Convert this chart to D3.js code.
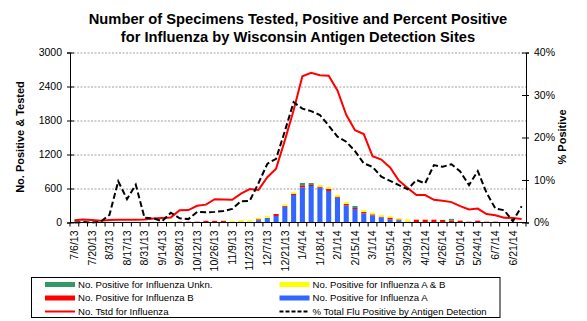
<!DOCTYPE html>
<html>
<head>
<meta charset="utf-8">
<script src="https://cdn.jsdelivr.net/npm/d3@7"></script>
<style>
html,body{margin:0;padding:0;background:#fff;}
svg{display:block;font-family:"Liberation Sans",Arial,sans-serif;}
</style>
</head>
<body>
<svg id="chart" width="587" height="321"></svg>
<script>
const weeks = ["7/6/13","7/13/13","7/20/13","7/27/13","8/3/13","8/10/13","8/17/13","8/24/13","8/31/13","9/7/13","9/14/13","9/21/13","9/28/13","10/5/13","10/12/13","10/19/13","10/26/13","11/2/13","11/9/13","11/16/13","11/23/13","11/30/13","12/7/13","12/14/13","12/21/13","12/28/13","1/4/14","1/11/14","1/18/14","1/25/14","2/1/14","2/8/14","2/15/14","2/22/14","3/1/14","3/8/14","3/15/14","3/22/14","3/29/14","4/5/14","4/12/14","4/19/14","4/26/14","5/3/14","5/10/14","5/17/14","5/24/14","5/31/14","6/7/14","6/14/14","6/21/14","6/28/14"];
const xTickLabels = ["7/6/13","7/20/13","8/3/13","8/17/13","8/31/13","9/14/13","9/28/13","10/12/13","10/26/13","11/9/13","11/23/13","12/7/13","12/21/13","1/4/14","1/18/14","2/1/14","2/15/14","3/1/14","3/15/14","3/29/14","4/12/14","4/26/14","5/10/14","5/24/14","6/7/14","6/21/14"];
const posA   = [0,0,0,0,10,0,0,0,0,0,0,0,0,0,0,0,0,0,0,0,12,40,82,115,278,485,621,644,615,556,438,303,238,162,126,91,56,40,15,0,0,0,0,0,0,0,0,0,0,0,0,0];
const posB   = [0,0,0,0,0,10,10,10,10,10,0,0,15,15,15,30,30,30,0,15,0,18,0,35,15,23,35,18,18,35,18,23,18,23,18,12,29,15,0,50,50,50,45,35,32,15,32,15,15,10,10,10];
const posAB  = [0,0,0,0,0,0,0,0,0,0,8,18,0,0,0,0,0,0,30,30,30,24,35,0,29,29,0,0,29,35,29,35,0,35,29,29,29,25,40,0,0,0,0,0,0,0,0,0,0,0,0,0];
const posUnk = [0,0,0,0,0,0,0,0,0,0,0,0,0,0,0,0,0,0,0,0,0,0,0,0,0,0,41,35,0,0,0,0,35,0,0,0,0,0,0,0,0,0,0,29,0,0,0,0,0,0,0,0];
const tested = [40,55,45,30,45,50,50,50,55,72,80,90,215,220,295,315,410,405,400,510,590,575,800,950,1450,1980,2580,2640,2600,2590,2330,1900,1630,1560,1170,1110,970,740,610,485,485,400,385,360,290,230,245,150,127,85,80,60];
const pctPos = [0,0.1,0,0.2,1.8,9.7,5.5,8.9,1.1,1.0,0.3,2.3,1.0,0.8,2.5,2.4,2.5,2.7,3.2,5.0,5.1,9.3,13.8,15.0,21.5,28.3,26.8,26.2,25.3,22.8,20.2,19.0,16.8,13.9,13.1,10.8,9.8,8.8,7.8,10.0,9.2,13.5,13.1,13.7,12.0,8.8,12.1,7.0,3.3,2.9,0.3,3.8];
const leftTicks = [0,600,1200,1800,2400,3000];
const rightTicks = [0,10,20,30,40];
const seriesKeys = ["A","B","AB","Unk"];
const seriesColors = {A:"#3366ff",B:"#ff0000",AB:"#ffff00",Unk:"#339966"};
const titleLines = ["Number of Specimens Tested, Positive and Percent Positive","for Influenza by Wisconsin Antigen Detection Sites"];

const svg = d3.select("#chart");
const L = 70, R = 526, T = 52.5, B = 222.5;

const x = d3.scaleBand().domain(weeks).range([L, R]).paddingInner(0.42).paddingOuter(0.21);
const y = d3.scaleLinear().domain([0, 3000]).range([B, T]);
const y2 = d3.scaleLinear().domain([0, 40]).range([B, T]);
const cx = d => x(d) + x.bandwidth() / 2;

// Title
svg.append("g").selectAll("text").data(titleLines).join("text")
  .attr("x", 298).attr("y", (d, i) => 24 + i * 18)
  .attr("text-anchor", "middle").attr("font-weight", "bold").attr("font-size", 14.7)
  .text(d => d);

// gridlines
svg.append("g").selectAll("line").data(leftTicks.filter(v => v > 0)).join("line")
  .attr("x1", L).attr("x2", R).attr("y1", d => y(d) + 0.5).attr("y2", d => y(d) + 0.5)
  .attr("stroke", "#a0a0a0").attr("stroke-width", 1).attr("stroke-dasharray", "2,1.5");

// stacked bars
const rows = weeks.map((w, i) => ({week: w, A: posA[i], B: posB[i], AB: posAB[i], Unk: posUnk[i]}));
const stack = d3.stack().keys(seriesKeys)(rows);
svg.append("g").selectAll("g").data(stack).join("g")
  .attr("fill", d => seriesColors[d.key])
  .selectAll("rect").data(d => d.filter(p => p[1] > p[0])).join("rect")
  .attr("x", d => x(d.data.week)).attr("width", x.bandwidth())
  .attr("y", d => y(d[1])).attr("height", d => y(d[0]) - y(d[1]));

// lines
const testedLine = d3.line().x((d, i) => cx(weeks[i])).y(d => y(d));
svg.append("path").datum(tested).attr("d", testedLine)
  .attr("fill", "none").attr("stroke", "#ff0000").attr("stroke-width", 2);
const pctLine = d3.line().x((d, i) => cx(weeks[i])).y(d => y2(d));
svg.append("path").datum(pctPos).attr("d", pctLine)
  .attr("fill", "none").attr("stroke", "#000").attr("stroke-width", 2).attr("stroke-dasharray", "6,3");

// left axis
const leftAxis = d3.axisLeft(y).tickValues(leftTicks).tickFormat(d3.format("d")).tickSize(3).tickPadding(5);
const gl = svg.append("g").attr("transform", `translate(${L},0)`).call(leftAxis);
gl.select(".domain").attr("stroke", "#000");
gl.selectAll(".tick line").attr("x2", 4).attr("x1", -3);
gl.selectAll(".tick text").attr("font-size", 10.5).attr("font-family", "Liberation Sans, Arial, sans-serif").attr("x", -8);

// right axis
const rightAxis = d3.axisRight(y2).tickValues(rightTicks).tickFormat(d => d + "%").tickSize(3).tickPadding(5);
const gr = svg.append("g").attr("transform", `translate(${R},0)`).call(rightAxis);
gr.select(".domain").attr("stroke", "#000");
gr.selectAll(".tick line").attr("x1", -4).attr("x2", 3);
gr.selectAll(".tick text").attr("font-size", 10.5).attr("font-family", "Liberation Sans, Arial, sans-serif").attr("x", 8);

// x axis
const gx = svg.append("g").attr("transform", `translate(0,${B})`);
gx.append("line").attr("x1", L).attr("x2", R).attr("stroke", "#000");
const boundaries = weeks.map(w => x(w) - x.step() * x.paddingInner() / 2).concat([R]);
gx.selectAll("line.tk").data(boundaries).join("line").attr("class", "tk")
  .attr("x1", d => d).attr("x2", d => d).attr("y1", 0).attr("y2", 4).attr("stroke", "#000");
gx.selectAll("text").data(xTickLabels).join("text")
  .attr("transform", d => `translate(${cx(d)},8) rotate(-90)`)
  .attr("text-anchor", "end").attr("dy", "0.35em").attr("font-size", 10.5)
  .text(d => d);

// axis titles
svg.append("text").attr("transform", "translate(24,137) rotate(-90)")
  .attr("text-anchor", "middle").attr("font-weight", "bold").attr("font-size", 11)
  .text("No. Positive & Tested");
svg.append("text").attr("transform", "translate(566,137) rotate(-90)")
  .attr("text-anchor", "middle").attr("font-weight", "bold").attr("font-size", 11)
  .text("% Positive");

// legend
const legendItems = [
  {label: "No. Positive for Influenza Unkn.", type: "rect", color: seriesColors.Unk, col: 0, row: 0},
  {label: "No. Positive for Influenza A & B", type: "rect", color: seriesColors.AB, col: 1, row: 0},
  {label: "No. Positive for Influenza B", type: "rect", color: seriesColors.B, col: 0, row: 1},
  {label: "No. Positive for Influenza A", type: "rect", color: seriesColors.A, col: 1, row: 1},
  {label: "No. Tstd for Influenza", type: "line", color: "#ff0000", col: 0, row: 2},
  {label: "% Total Flu Positive by Antigen Detection", type: "dash", color: "#000", col: 1, row: 2}
];
const lg = svg.append("g");
lg.append("rect").attr("x", 31.5).attr("y", 277.5).attr("width", 468.5).attr("height", 40)
  .attr("fill", "#fff").attr("stroke", "#000").attr("stroke-width", 1);
const colX = [45, 279.5];
const rowY = [284.5, 298, 311.5];
const li = lg.selectAll("g.it").data(legendItems).join("g").attr("class", "it")
  .attr("transform", d => `translate(${colX[d.col]},${rowY[d.row]})`);
li.filter(d => d.type === "rect").append("rect")
  .attr("x", 0).attr("y", -2.5).attr("width", 30).attr("height", 5).attr("fill", d => d.color);
li.filter(d => d.type === "line").append("line")
  .attr("x1", 0).attr("x2", 30).attr("stroke", d => d.color).attr("stroke-width", 2);
li.filter(d => d.type === "dash").append("line")
  .attr("x1", 0).attr("x2", 30).attr("stroke", d => d.color).attr("stroke-width", 2).attr("stroke-dasharray", "4,2");
li.append("text").attr("x", 33).attr("dy", "0.35em").attr("font-size", 9.6)
  .attr("font-family", "'Liberation Sans Narrow', 'Arial Narrow', 'Liberation Sans', Arial, sans-serif")
  .text(d => d.label);
</script>
</body>
</html>
